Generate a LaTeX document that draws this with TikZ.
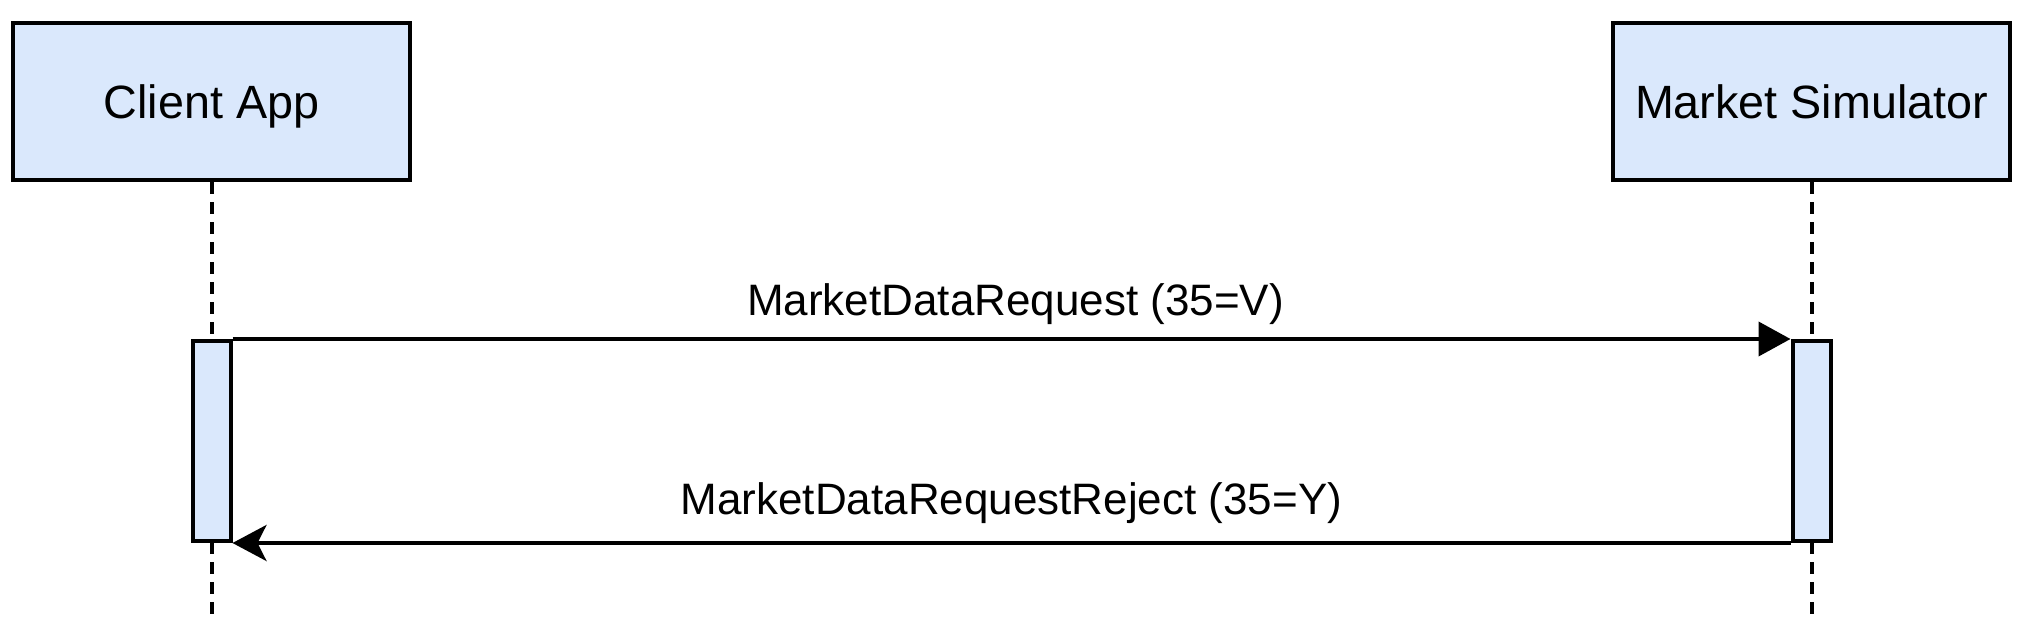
\documentclass[tikz,border=0pt]{standalone}
\usepackage{fontspec}
\setmainfont{Liberation Sans}
\usepackage{tikz}
\usetikzlibrary{positioning}
\usetikzlibrary{shapes,arrows,calc,arrows.meta}
\definecolor{boxblue}{HTML}{DAE8FC}

\begin{document}
\begin{tikzpicture}[x=1pt,y=-1pt,on grid,line width=4pt,
   actor/.style={draw,fill=boxblue,minimum width=397pt,minimum height=157pt,inner sep=0pt,text depth=0pt,font=\fontsize{46.7}{56}\selectfont},
   activ/.style={draw,fill=boxblue,minimum width=38pt,minimum height=200pt,inner sep=0pt},
   lifeline/.style={dash pattern=on 12pt off 8pt},
   msg/.style={font=\fontsize{44}{53}\selectfont,inner sep=0pt}]
   \useasboundingbox (0,0) rectangle (2033,639);
   \node[actor] (client) at (211.5,101.5) {Client App};
   \node[actor] (sim) [right=1600pt of client] {Market Simulator};
   \coordinate[below=518.5pt of client] (c_end);
   \coordinate[below=518.5pt of sim] (s_end);
   \draw[lifeline] (client.south) -- (c_end);
   \draw[lifeline] (sim.south) -- (s_end);
   \node[activ] (act_c) [below=339.5pt of client] {};
   \node[activ] (act_s) [below=339.5pt of sim] {};
    \path 
    (act_c.north east) edge[-{Triangle[length=32pt,width=34pt]}] node[msg,above=12pt,xshift=4pt] {MarketDataRequest (35=V)} (act_s.north west)
    (act_s.south west) edge[-{Stealth[length=34pt,width=36pt,inset=9pt]}] node[msg,above=17pt] {MarketDataRequestReject (35=Y)} (act_c.south east);
\end{tikzpicture}
\end{document}
